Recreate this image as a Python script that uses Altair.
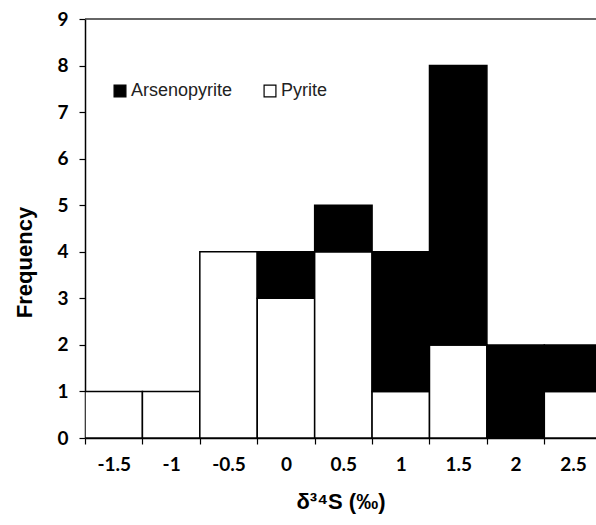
import altair as alt
import pandas as pd

# Bin centres of the δ34S histogram (‰) and counts per mineral
bin_centres = [-1.5, -1.0, -0.5, 0.0, 0.5, 1.0, 1.5, 2.0, 2.5]
pyrite = [1, 1, 4, 3, 4, 1, 2, 0, 1]
arsenopyrite = [0, 0, 0, 1, 1, 3, 6, 2, 1]
minerals = ["Arsenopyrite", "Pyrite"]
half_width = 0.25

rows = []
for c, p, a in zip(bin_centres, pyrite, arsenopyrite):
    # pyrite sits at the bottom of each stack, arsenopyrite above it
    if p > 0:
        rows.append({"lo": c - half_width, "hi": c + half_width,
                     "y0": 0, "y1": p, "mineral": "Pyrite"})
    if a > 0:
        rows.append({"lo": c - half_width, "hi": c + half_width,
                     "y0": p, "y1": p + a, "mineral": "Arsenopyrite"})
df = pd.DataFrame(rows)

edges = [c - half_width for c in bin_centres]

W, H = 511, 419

x_scale = alt.Scale(domain=[-1.75, 2.70], nice=False, zero=False)
y_scale = alt.Scale(domain=[0, 9], nice=False)

bars = alt.Chart(df).mark_bar(stroke="black", strokeWidth=1.5, clip=True).encode(
    x=alt.X("lo:Q", scale=x_scale,
            axis=alt.Axis(values=edges, title="δ³⁴S (‰)",
                          labelExpr="'' + (datum.value + 0.25)",
                          labelOffset=28.7, labelPadding=11,
                          labelFlush=False, labelOverlap=False,
                          labelFont="Lato", labelFontWeight="bold", labelFontSize=19,
                          labelColor="black",
                          titleFont="Liberation Sans", titleFontWeight="bold",
                          titleFontSize=22, titleColor="black", titlePadding=17,
                          tickSize=6, tickColor="black", tickWidth=1.2,
                          domainColor="black", domainWidth=1.5, grid=False)),
    x2="hi:Q",
    y=alt.Y("y1:Q", scale=y_scale,
            axis=alt.Axis(values=list(range(10)), title="Frequency",
                          labelFont="Lato", labelFontWeight="bold", labelFontSize=19,
                          labelColor="black", labelPadding=11,
                          titleFont="Liberation Sans", titleFontWeight="bold",
                          titleFontSize=22, titleColor="black", titlePadding=20,
                          titleY=243,
                          tickSize=6, tickColor="black", tickWidth=1.2,
                          domainColor="black", domainWidth=1.5, grid=False)),
    y2="y0:Q",
    color=alt.Color("mineral:N",
                    scale=alt.Scale(domain=minerals, range=["black", "white"]),
                    legend=alt.Legend(title=None, orient="none", legendX=26, legendY=63,
                                      direction="horizontal", columns=2,
                                      symbolType="square", symbolSize=140,
                                      symbolStrokeColor="black", symbolStrokeWidth=1.2,
                                      labelFont="Liberation Sans", labelFontSize=18,
                                      labelColor="#222", columnPadding=28,
                                      labelOffset=2)),
)

# frame line along the top of the plot area
top_line = alt.Chart(pd.DataFrame({"v": [0]})).mark_rule(
    color="#333", strokeWidth=1.5
).encode(x=alt.value(0), x2=alt.value(W), y=alt.value(0))

chart = alt.layer(bars, top_line).properties(
    width=W, height=H,
    autosize=alt.AutoSizeParams(type="none"),
    padding={"left": 85, "top": 19, "right": 0, "bottom": 87},
).configure_view(stroke=None)

chart.save("out.html", embed_options={"renderer": "svg", "actions": False})
